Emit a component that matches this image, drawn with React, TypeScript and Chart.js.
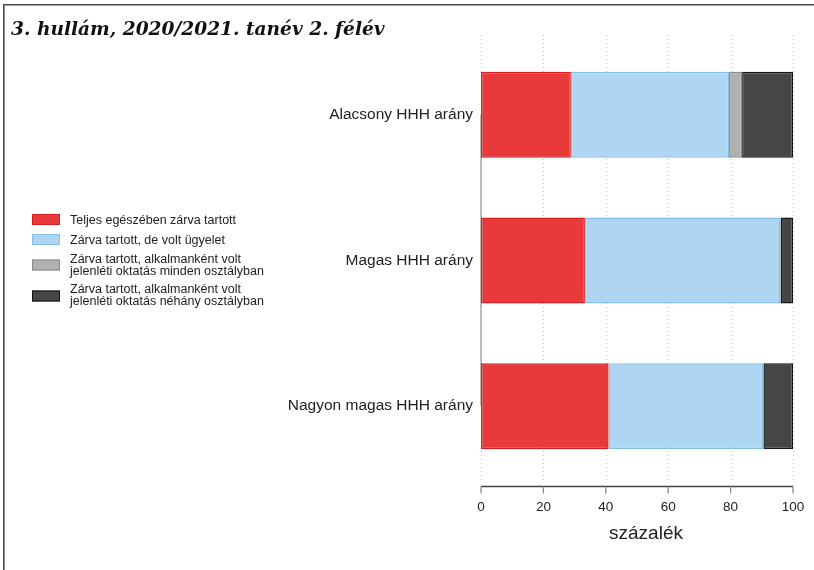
import React, { useEffect, useRef } from "react";
import { Chart, registerables } from "chart.js";

Chart.register(...registerables);

const TITLE = "3. hullám, 2020/2021. tanév 2. félév";
const categories = ["Alacsony HHH arány", "Magas HHH arány", "Nagyon magas HHH arány"];
const seriesNames = [
  ["Teljes egészében zárva tartott"],
  ["Zárva tartott, de volt ügyelet"],
  ["Zárva tartott, alkalmanként volt", "jelenléti oktatás minden osztályban"],
  ["Zárva tartott, alkalmanként volt", "jelenléti oktatás néhány osztályban"],
];
const teljesZarva = [28.8, 33.3, 40.9];
const ugyelet = [50.7, 62.7, 49.6];
const mindenOsztaly = [4.2, 0, 0];
const nehanyOsztaly = [16.3, 4.0, 9.5];
const xTicks = [0, 20, 40, 60, 80, 100];
const xTitle = "százalék";

const fills = ["#e8393b", "#aed6f1", "#b0b0b0", "#464646"];
const borders = ["#d81e22", "#86c0e8", "#8a8a8a", "#151515"];

const decor = {
  id: "decor",
  beforeDatasetsDraw(chart: any) {
    const ctx = chart.ctx;
    const xs = chart.scales.x;
    const ys = chart.scales.y;
    const ca = chart.chartArea;
    ctx.save();
    ctx.strokeStyle = "#c4c4c4";
    ctx.lineWidth = 1;
    ctx.setLineDash([1, 3]);
    xTicks.forEach((t) => {
      const x = Math.round(xs.getPixelForValue(t)) + 0.5;
      ctx.beginPath();
      ctx.moveTo(x, ca.top - 7);
      ctx.lineTo(x, ca.bottom + 3);
      ctx.stroke();
    });
    ctx.setLineDash([]);
    const x0 = xs.getPixelForValue(0);
    ctx.strokeStyle = "#a8a8a8";
    ctx.lineWidth = 1.5;
    ctx.beginPath();
    ctx.moveTo(x0, ys.getPixelForValue(0));
    ctx.lineTo(x0, ys.getPixelForValue(categories.length - 1));
    ctx.stroke();
    ctx.restore();
  },
  afterDraw(chart: any) {
    const ctx = chart.ctx;
    const xs = chart.scales.x;
    const ca = chart.chartArea;
    ctx.save();
    ctx.strokeStyle = "#4a4a4a";
    ctx.lineWidth = 1.6;
    ctx.beginPath();
    ctx.moveTo(814, 4.8);
    ctx.lineTo(3.8, 4.8);
    ctx.lineTo(3.8, 570);
    ctx.stroke();
    ctx.fillStyle = "#111";
    ctx.font = "italic bold 18.6px 'DejaVu Serif'";
    ctx.textAlign = "left";
    ctx.textBaseline = "alphabetic";
    ctx.fillText(TITLE, 11, 35);
    const axY = ca.bottom + 7.5;
    const xa = xs.getPixelForValue(xTicks[0]);
    const xb = xs.getPixelForValue(xTicks[xTicks.length - 1]);
    ctx.strokeStyle = "#444";
    ctx.lineWidth = 1.5;
    ctx.beginPath();
    ctx.moveTo(xa, axY);
    ctx.lineTo(xb, axY);
    ctx.stroke();
    ctx.strokeStyle = "#8c8c8c";
    ctx.lineWidth = 1.3;
    ctx.font = "13.5px 'Liberation Sans', Arial, sans-serif";
    ctx.fillStyle = "#222";
    ctx.textAlign = "center";
    ctx.textBaseline = "middle";
    xTicks.forEach((t) => {
      const x = xs.getPixelForValue(t);
      ctx.beginPath();
      ctx.moveTo(x, axY);
      ctx.lineTo(x, axY + 7);
      ctx.stroke();
      ctx.fillText(String(t), x, axY + 21);
    });
    ctx.font = "19px 'Liberation Sans', Arial, sans-serif";
    ctx.fillText(xTitle, (xa + xb) / 2 + 9, axY + 47);
    const entries = [
      { cy: 219.5, ty: [221] },
      { cy: 239.5, ty: [241] },
      { cy: 265, ty: [259.5, 271.5] },
      { cy: 296, ty: [290, 302] },
    ];
    ctx.font = "12.5px 'Liberation Sans', Arial, sans-serif";
    ctx.textAlign = "left";
    entries.forEach((e, i) => {
      ctx.fillStyle = fills[i];
      ctx.fillRect(32, e.cy - 5.5, 28, 11);
      ctx.strokeStyle = borders[i];
      ctx.lineWidth = 1;
      ctx.strokeRect(32.5, e.cy - 5, 27, 10);
      ctx.fillStyle = "#222";
      seriesNames[i].forEach((line, j) => {
        ctx.fillText(line, 70, e.ty[j]);
      });
    });
    ctx.restore();
  },
};

export default function App() {
  const ref = useRef<HTMLCanvasElement | null>(null);
  useEffect(() => {
    if (!ref.current) return;
    const values = [teljesZarva, ugyelet, mindenOsztaly, nehanyOsztaly];
    const chart = new Chart(ref.current, {
      type: "bar",
      data: {
        labels: categories,
        datasets: values.map((v, i) => ({
          label: seriesNames[i].join(" "),
          data: v,
          backgroundColor: fills[i],
          borderColor: borders[i],
          borderWidth: 1.5,
          borderSkipped: false,
          barPercentage: 0.59,
          categoryPercentage: 1,
        })),
      },
      options: {
        indexAxis: "y",
        responsive: false,
        animation: false,
        devicePixelRatio: 1,
        layout: { padding: { left: 0, right: 21, top: 42, bottom: 91 } },
        plugins: { legend: { display: false }, tooltip: { enabled: false }, title: { display: false } },
        scales: {
          x: {
            stacked: true,
            min: 0,
            max: 100,
            display: false,
          },
          y: {
            stacked: true,
            grid: { display: false },
            border: { display: false },
            ticks: {
              color: "#222",
              padding: 0,
              font: { family: "'Liberation Sans', Arial, sans-serif", size: 15.5 },
            },
            afterFit: (scale: any) => {
              scale.width = 481;
            },
          },
        },
      },
      plugins: [decor],
    });
    return () => chart.destroy();
  }, []);
  return (
    <div style={{ position: "absolute", left: 0, top: 0, width: 814, height: 570, background: "#fff" }}>
      <canvas ref={ref} width={814} height={570} style={{ width: 814, height: 570, display: "block" }} />
    </div>
  );
}
